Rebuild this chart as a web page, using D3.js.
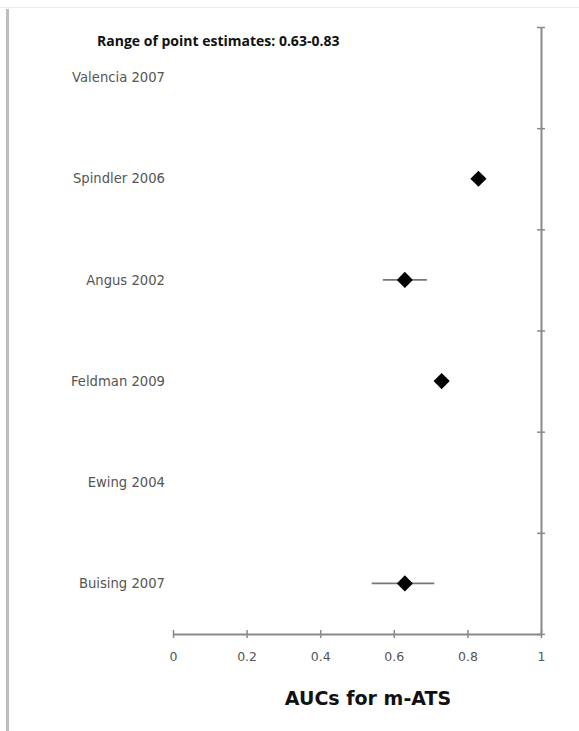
<!DOCTYPE html>
<html>
<head>
<meta charset="utf-8">
<script src="https://cdn.jsdelivr.net/npm/d3@7"></script>
<style>
  html, body { margin: 0; padding: 0; background: #fff; }
  svg { display: block; }
</style>
</head>
<body>
<script>
// ---- data ----
const studies = ["Valencia 2007", "Spindler 2006", "Angus 2002", "Feldman 2009", "Ewing 2004", "Buising 2007"];
const auc     = [null, 0.83, 0.63, 0.73, null, 0.63];
const ciLow   = [null, null, 0.57, null, null, 0.54];
const ciHigh  = [null, null, 0.69, null, null, 0.71];
const xTicks  = [0, 0.2, 0.4, 0.6, 0.8, 1];
const xTickLabels = ["0", "0.2", "0.4", "0.6", "0.8", "1"];
const rangeNote = "Range of point estimates: 0.63-0.83";
const xTitle = "AUCs for m-ATS";

const W = 579, H = 731;
const svg = d3.select("body").append("svg").attr("width", W).attr("height", H);

// page decorations
svg.append("line").attr("x1", 0).attr("x2", W).attr("y1", 7.5).attr("y2", 7.5)
  .attr("stroke", "#ececec").attr("stroke-width", 1);
svg.append("rect").attr("x", 6).attr("y", 9).attr("width", 3).attr("height", H - 9).attr("fill", "#bdbdbd");

// scales
const x = d3.scaleLinear().domain([0, 1]).range([173, 541]);
const y = d3.scaleBand().domain(studies).range([27, 634]);
const yEdge = d3.scaleLinear().domain([0, studies.length]).range([27, 634]);

const axisColor = "#8a8a8a";

// x axis
const xAxis = svg.append("g").attr("transform", `translate(0,634)`)
  .call(d3.axisBottom(x).tickValues(xTicks).tickFormat((d, i) => xTickLabels[i]).tickSize(0).tickPadding(18));
xAxis.select(".domain").attr("stroke", axisColor).attr("stroke-width", 2);
xAxis.selectAll(".tick line").attr("y1", -4).attr("y2", 4).attr("stroke", axisColor).attr("stroke-width", 1.5);
xAxis.selectAll(".tick text").attr("font-family", "DejaVu Sans, sans-serif").attr("font-size", 12.5).attr("fill", "#555");

// right (y) axis at x = 1
const yAxis = svg.append("g").attr("transform", `translate(${x(1)},0)`)
  .call(d3.axisRight(yEdge).tickValues(d3.range(0, studies.length + 1)).tickFormat("").tickSize(0));
yAxis.select(".domain").attr("stroke", axisColor).attr("stroke-width", 2);
yAxis.selectAll(".tick line").attr("x1", -4).attr("x2", 4).attr("stroke", axisColor).attr("stroke-width", 1.5);

// study labels
svg.append("g").selectAll("text").data(studies).join("text")
  .attr("x", 165).attr("y", d => y(d) + y.bandwidth() / 2)
  .attr("dy", "0.35em").attr("text-anchor", "end")
  .attr("font-family", "DejaVu Sans, sans-serif").attr("font-size", 13.2).attr("fill", "#555")
  .text(d => d);

// error bars
const ciData = studies.map((s, i) => ({ s, lo: ciLow[i], hi: ciHigh[i] })).filter(d => d.lo != null);
svg.append("g").selectAll("line").data(ciData).join("line")
  .attr("x1", d => x(d.lo)).attr("x2", d => x(d.hi))
  .attr("y1", d => y(d.s) + y.bandwidth() / 2).attr("y2", d => y(d.s) + y.bandwidth() / 2)
  .attr("stroke", "#777").attr("stroke-width", 1.8);

// diamonds
const pts = studies.map((s, i) => ({ s, v: auc[i] })).filter(d => d.v != null);
svg.append("g").selectAll("path").data(pts).join("path")
  .attr("d", d3.symbol(d3.symbolSquare, 130))
  .attr("transform", d => `translate(${x(d.v)},${y(d.s) + y.bandwidth() / 2}) rotate(45)`)
  .attr("fill", "#000");

// range note
svg.append("text").attr("x", 97).attr("y", 46)
  .attr("font-family", "Open Sans, sans-serif").attr("font-weight", "bold")
  .attr("font-size", 14).attr("fill", "#111").text(rangeNote);

// x title
svg.append("text").attr("x", 368).attr("y", 705).attr("text-anchor", "middle")
  .attr("font-family", "DejaVu Sans, sans-serif").attr("font-weight", "bold")
  .attr("font-size", 19).attr("fill", "#111").text(xTitle);
</script>
</body>
</html>
